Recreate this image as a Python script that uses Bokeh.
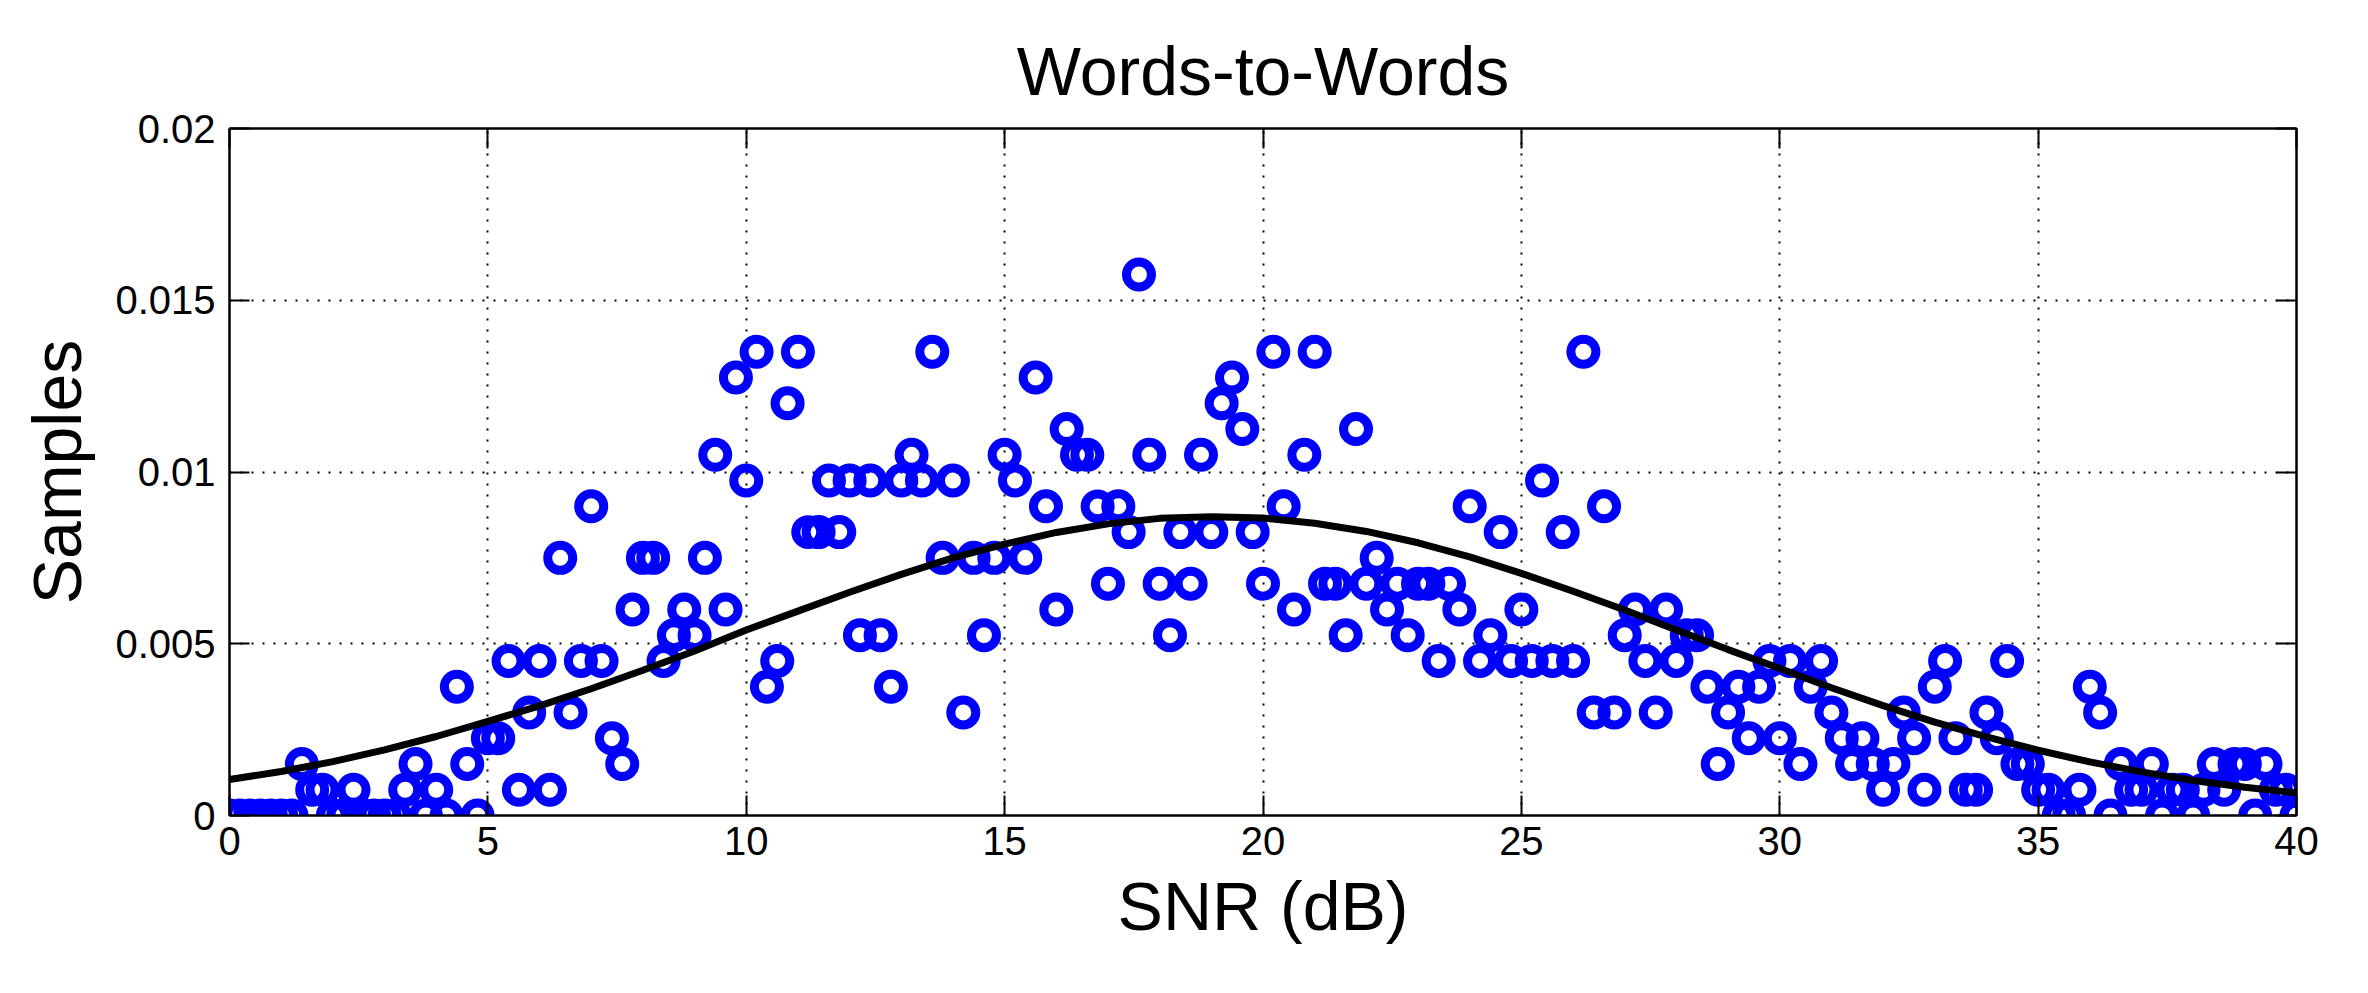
from bokeh.plotting import figure
from bokeh.models import FixedTicker, LinearAxis, Range1d, ColumnDataSource
from bokeh.embed import file_html
from bokeh.resources import INLINE

# ---- data ----
snr_db = [
    0.0, 0.2, 0.4, 0.6, 0.8, 1.0, 1.2, 1.4, 1.6, 1.8,
    2.0, 2.2, 2.4, 2.6, 2.8, 3.0, 3.2, 3.4, 3.6, 3.8,
    4.0, 4.2, 4.4, 4.6, 4.8, 5.0, 5.2, 5.4, 5.6, 5.8,
    6.0, 6.2, 6.4, 6.6, 6.8, 7.0, 7.2, 7.4, 7.6, 7.8,
    8.0, 8.2, 8.4, 8.6, 8.8, 9.0, 9.2, 9.4, 9.6, 9.8,
    10.0, 10.2, 10.4, 10.6, 10.8, 11.0, 11.2, 11.4, 11.6, 11.8,
    12.0, 12.2, 12.4, 12.6, 12.8, 13.0, 13.2, 13.4, 13.6, 13.8,
    14.0, 14.2, 14.4, 14.6, 14.8, 15.0, 15.2, 15.4, 15.6, 15.8,
    16.0, 16.2, 16.4, 16.6, 16.8, 17.0, 17.2, 17.4, 17.6, 17.8,
    18.0, 18.2, 18.4, 18.6, 18.8, 19.0, 19.2, 19.4, 19.6, 19.8,
    20.0, 20.2, 20.4, 20.6, 20.8, 21.0, 21.2, 21.4, 21.6, 21.8,
    22.0, 22.2, 22.4, 22.6, 22.8, 23.0, 23.2, 23.4, 23.6, 23.8,
    24.0, 24.2, 24.4, 24.6, 24.8, 25.0, 25.2, 25.4, 25.6, 25.8,
    26.0, 26.2, 26.4, 26.6, 26.8, 27.0, 27.2, 27.4, 27.6, 27.8,
    28.0, 28.2, 28.4, 28.6, 28.8, 29.0, 29.2, 29.4, 29.6, 29.8,
    30.0, 30.2, 30.4, 30.6, 30.8, 31.0, 31.2, 31.4, 31.6, 31.8,
    32.0, 32.2, 32.4, 32.6, 32.8, 33.0, 33.2, 33.4, 33.6, 33.8,
    34.0, 34.2, 34.4, 34.6, 34.8, 35.0, 35.2, 35.4, 35.6, 35.8,
    36.0, 36.2, 36.4, 36.6, 36.8, 37.0, 37.2, 37.4, 37.6, 37.8,
    38.0, 38.2, 38.4, 38.6, 38.8, 39.0, 39.2, 39.4, 39.6, 39.8,
    40.0,
]

samples = [
    0, 0, 0, 0, 0, 0, 0, 0.0015, 0.00075, 0.00075,
    0, 0, 0.00075, 0, 0, 0, 0, 0.00075, 0.0015, 0,
    0.00075, 0, 0.00375, 0.0015, 0, 0.00225, 0.00225, 0.0045, 0.00075, 0.003,
    0.0045, 0.00075, 0.0075, 0.003, 0.0045, 0.009, 0.0045, 0.00225, 0.0015, 0.006,
    0.0075, 0.0075, 0.0045, 0.00525, 0.006, 0.00525, 0.0075, 0.0105, 0.006, 0.01275,
    0.00975, 0.0135, 0.00375, 0.0045, 0.012, 0.0135, 0.00825, 0.00825, 0.00975, 0.00825,
    0.00975, 0.00525, 0.00975, 0.00525, 0.00375, 0.00975, 0.0105, 0.00975, 0.0135, 0.0075,
    0.00975, 0.003, 0.0075, 0.00525, 0.0075, 0.0105, 0.00975, 0.0075, 0.01275, 0.009,
    0.006, 0.01125, 0.0105, 0.0105, 0.009, 0.00675, 0.009, 0.00825, 0.01575, 0.0105,
    0.00675, 0.00525, 0.00825, 0.00675, 0.0105, 0.00825, 0.012, 0.01275, 0.01125, 0.00825,
    0.00675, 0.0135, 0.009, 0.006, 0.0105, 0.0135, 0.00675, 0.00675, 0.00525, 0.01125,
    0.00675, 0.0075, 0.006, 0.00675, 0.00525, 0.00675, 0.00675, 0.0045, 0.00675, 0.006,
    0.009, 0.0045, 0.00525, 0.00825, 0.0045, 0.006, 0.0045, 0.00975, 0.0045, 0.00825,
    0.0045, 0.0135, 0.003, 0.009, 0.003, 0.00525, 0.006, 0.0045, 0.003, 0.006,
    0.0045, 0.00525, 0.00525, 0.00375, 0.0015, 0.003, 0.00375, 0.00225, 0.00375, 0.0045,
    0.00225, 0.0045, 0.0015, 0.00375, 0.0045, 0.003, 0.00225, 0.0015, 0.00225, 0.0015,
    0.00075, 0.0015, 0.003, 0.00225, 0.00075, 0.00375, 0.0045, 0.00225, 0.00075, 0.00075,
    0.003, 0.00225, 0.0045, 0.0015, 0.0015, 0.00075, 0.00075, 0, 0, 0.00075,
    0.00375, 0.003, 0, 0.0015, 0.00075, 0.00075, 0.0015, 0, 0.00075, 0.00075,
    0, 0.00075, 0.0015, 0.00075, 0.0015, 0.0015, 0, 0.0015, 0.00075, 0.00075,
    0,
]

fit_snr = [0, 1, 2, 3, 4, 5, 6, 7, 8, 9, 10, 11, 12, 13, 14, 15, 16, 17, 18, 19, 20,
           21, 22, 23, 24, 25, 26, 27, 28, 29, 30, 31, 32, 33, 34, 35, 36, 37, 38, 39, 40]
fit_val = [0.00105, 0.00128, 0.00157, 0.00191, 0.0023, 0.00274, 0.00319, 0.00369, 0.00423,
           0.00479, 0.0054, 0.00595, 0.0065, 0.00702, 0.0075, 0.0079, 0.00824, 0.00849,
           0.00865, 0.0087, 0.00866, 0.00851, 0.00827, 0.00794, 0.00753, 0.00705, 0.00653,
           0.00598, 0.0054, 0.00483, 0.00428, 0.00372, 0.0032, 0.00272, 0.00229, 0.0019,
           0.00156, 0.00127, 0.00102, 0.00082, 0.00066]

x_ticks = [0, 5, 10, 15, 20, 25, 30, 35, 40]
y_ticks = [0, 0.005, 0.01, 0.015, 0.02]
y_tick_labels = ["0", "0.005", "0.01", "0.015", "0.02"]

FONT = "Liberation Sans"
TICK_SIZE = "40px"
LABEL_SIZE = "68px"

p = figure(
    width=2352, height=976,
    x_range=Range1d(0, 40), y_range=Range1d(0, 0.02),
    output_backend="svg", toolbar_location=None,
    title="Words-to-Words",
    min_border_left=229, min_border_right=56,
    min_border_top=128, min_border_bottom=161,
)
p.background_fill_color = "white"
p.border_fill_color = "white"
p.outline_line_color = "black"
p.outline_line_width = 2

p.title.text_font = FONT
p.title.text_font_size = LABEL_SIZE
p.title.text_font_style = "normal"
p.title.text_color = "black"
p.title.align = "center"
p.title.standoff = 39

# grid
for g, t in ((p.xgrid, x_ticks), (p.ygrid, y_ticks)):
    g.ticker = FixedTicker(ticks=t)
    g.grid_line_color = "black"
    g.grid_line_width = 2
    g.grid_line_dash = "2 9"

def style_axis(ax, ticks):
    ax.ticker = FixedTicker(ticks=ticks)
    ax.major_tick_in = 20
    ax.major_tick_out = 0
    ax.major_tick_line_width = 2
    ax.major_tick_line_color = "black"
    ax.minor_tick_line_color = None
    ax.axis_line_width = 2
    ax.axis_line_color = "black"
    ax.major_label_text_font = FONT
    ax.major_label_text_font_size = TICK_SIZE
    ax.major_label_text_color = "black"
    ax.axis_label_text_font = FONT
    ax.axis_label_text_font_size = LABEL_SIZE
    ax.axis_label_text_font_style = "normal"
    ax.axis_label_text_color = "black"

xa = p.xaxis[0]
style_axis(xa, x_ticks)
xa.axis_label = "SNR (dB)"
xa.major_label_standoff = 11
xa.axis_label_standoff = 10

ya = p.yaxis[0]
style_axis(ya, y_ticks)
ya.axis_label = "Samples"
ya.major_label_overrides = {t: s for t, s in zip(y_ticks, y_tick_labels)}
ya.major_label_standoff = 14
ya.axis_label_standoff = 17

# box ticks on top and right
top = LinearAxis()
style_axis(top, x_ticks)
top.major_label_text_color = None
top.major_label_text_font_size = "1px"
p.add_layout(top, "above")
right = LinearAxis()
style_axis(right, y_ticks)
right.major_label_text_color = None
right.major_label_text_font_size = "1px"
p.add_layout(right, "right")

src = ColumnDataSource(data=dict(x=snr_db, y=samples))
p.scatter("x", "y", source=src, marker="circle", size=25,
          fill_color=None, line_color="#0000FF", line_width=9)

fit_src = ColumnDataSource(data=dict(x=fit_snr, y=fit_val))
p.line("x", "y", source=fit_src, line_color="black", line_width=7)

open("out.html", "w").write(file_html(p, INLINE))
